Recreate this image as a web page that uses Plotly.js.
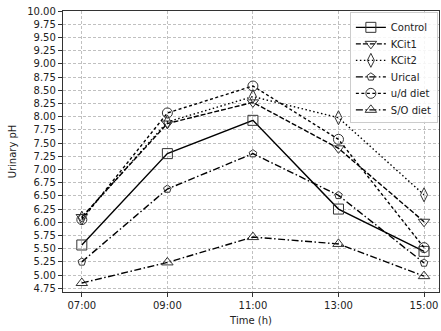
<!DOCTYPE html>
<html>
<head>
<meta charset="utf-8">
<script src="https://cdn.plot.ly/plotly-3.0.1.min.js"></script>
<style>
  html, body { margin: 0; padding: 0; background: #fff; }
  #chart { width: 441px; height: 331px; }
</style>
</head>
<body>
<div id="chart"></div>
<script>
// Sampling times (hours) and their labels
const hours = [7, 9, 11, 13, 15];
const timeLabels = ['07:00', '09:00', '11:00', '13:00', '15:00'];

// Urinary pH per group
const control = [5.57, 7.30, 7.93, 6.25, 5.45];
const kcit1   = [6.10, 7.87, 8.27, 7.40, 6.01];
const kcit2   = [6.08, 7.90, 8.38, 7.98, 6.52];
const urical  = [5.25, 6.63, 7.30, 6.51, 5.23];
const udDiet  = [6.05, 8.07, 8.58, 7.57, 5.52];
const soDiet  = [4.85, 5.24, 5.72, 5.59, 4.98];

const seriesNames = ['Control', 'KCit1', 'KCit2', 'Urical', 'u/d diet', 'S/O diet'];

// y tick values every 0.25 from 4.75 to 10.00
const yTicks = [4.75, 5.00, 5.25, 5.50, 5.75, 6.00, 6.25, 6.50, 6.75, 7.00, 7.25,
                7.50, 7.75, 8.00, 8.25, 8.50, 8.75, 9.00, 9.25, 9.50, 9.75, 10.00];

const styles = [
  { dash: 'solid',          symbol: 'square-open' },
  { dash: '5px,2px',        symbol: 'triangle-down-open' },
  { dash: '1.5px,2.5px',    symbol: 'diamond-tall-open' },
  { dash: '7px,2.5px,1.5px,2.5px', symbol: 'pentagon-open' },
  { dash: '3px,2.5px',      symbol: 'circle-open' },
  { dash: '7px,2.5px,1.5px,2.5px', symbol: 'triangle-up-open' }
];

const values = [control, kcit1, kcit2, urical, udDiet, soDiet];

const traces = values.map((vals, i) => ({
  x: hours,
  y: vals,
  name: seriesNames[i],
  type: 'scatter',
  mode: 'lines+markers',
  line: { color: '#000', width: 1.4, dash: styles[i].dash },
  marker: {
    symbol: styles[i].symbol,
    size: i === 3 ? 8 : 10,
    color: '#333',
    line: { color: '#333', width: 1 }
  }
}));

const gridStyle = { gridcolor: '#b0b0b0', griddash: '3px,2px', gridwidth: 0.8 };

const layout = {
  width: 441,
  height: 331,
  margin: { l: 63, r: 2, t: 11, b: 39 },
  paper_bgcolor: '#fff',
  plot_bgcolor: '#fff',
  font: { family: 'DejaVu Sans', size: 10, color: '#222' },
  showlegend: true,
  legend: {
    x: 0.997, y: 0.997, xanchor: 'right', yanchor: 'top',
    bgcolor: 'rgba(255,255,255,0.85)',
    bordercolor: '#ccc', borderwidth: 1,
    font: { family: 'DejaVu Sans', size: 10, color: '#222' },
    tracegroupgap: 0,
    itemwidth: 30,
    entrywidth: 0
  },
  xaxis: Object.assign({
    range: [6.56, 15.35],
    tickmode: 'array',
    tickvals: hours,
    ticktext: timeLabels,
    ticks: 'outside', ticklen: 4, tickcolor: '#333',
    showline: true, linecolor: '#333', linewidth: 1.2, mirror: true,
    zeroline: false,
    title: { text: 'Time (h)', font: { family: 'DejaVu Sans', size: 10, color: '#222' }, standoff: 6 }
  }, gridStyle),
  yaxis: Object.assign({
    range: [4.68, 10.0],
    tickmode: 'array',
    tickvals: yTicks,
    ticktext: yTicks.map(v => v.toFixed(2)),
    ticks: 'outside', ticklen: 4, tickcolor: '#333',
    showline: true, linecolor: '#333', linewidth: 1.2, mirror: true,
    zeroline: false,
    title: { text: 'Urinary pH', font: { family: 'DejaVu Sans', size: 10, color: '#222' }, standoff: 8 }
  }, gridStyle)
};

Plotly.newPlot('chart', traces, layout, { displayModeBar: false, staticPlot: true }).then(gd => {
  // tighten the legend rows to the compact spacing of the drawn key
  const rows = gd.querySelectorAll('.legend .traces');
  rows.forEach((row, i) => {
    const t = row.getAttribute('transform');
    const m = /translate\(([-\d.]+),\s*([-\d.]+)\)/.exec(t || '');
    if (m) row.setAttribute('transform', `translate(${m[1]},${(parseFloat(m[2]) - i * 2.5).toFixed(1)})`);
  });
  const bg = gd.querySelector('.legend .bg');
  if (bg) {
    const h = parseFloat(bg.getAttribute('height'));
    bg.setAttribute('height', (h - rows.length * 2.5).toFixed(1));
  }
});
</script>
</body>
</html>
